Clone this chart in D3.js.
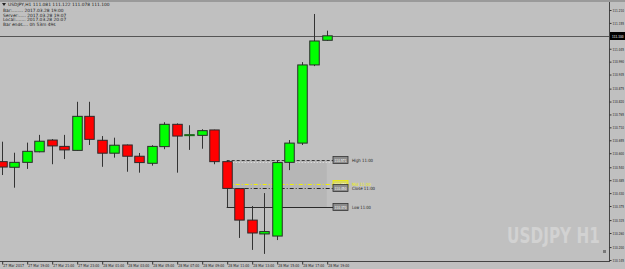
<!DOCTYPE html>
<html>
<head>
<meta charset="utf-8">
<script src="https://cdn.jsdelivr.net/npm/d3@7"></script>
<style>
  html,body{margin:0;padding:0;background:#c0c0c0;overflow:hidden;}
  svg{display:block;}
  text{font-family:"DejaVu Sans",sans-serif;}
</style>
</head>
<body>
<script>
// H1 bars, 27 Mar 17:00 .. 28 Mar 19:00
var barTimes=['27 Mar 17:00','27 Mar 18:00','27 Mar 19:00','27 Mar 20:00','27 Mar 21:00','27 Mar 22:00',
  '27 Mar 23:00','28 Mar 00:00','28 Mar 01:00','28 Mar 02:00','28 Mar 03:00','28 Mar 04:00','28 Mar 05:00',
  '28 Mar 06:00','28 Mar 07:00','28 Mar 08:00','28 Mar 09:00','28 Mar 10:00','28 Mar 11:00','28 Mar 12:00',
  '28 Mar 13:00','28 Mar 14:00','28 Mar 15:00','28 Mar 16:00','28 Mar 17:00','28 Mar 18:00','28 Mar 19:00'];
var opens =[110.564,110.540,110.561,110.606,110.656,110.629,110.612,110.757,110.655,110.600,110.635,110.587,110.557,
  110.628,110.723,110.679,110.676,110.699,110.564,110.449,110.315,110.256,110.247,110.561,110.643,110.976,111.081];
var highs =[110.649,110.602,110.645,110.678,110.660,110.678,110.819,110.819,110.673,110.666,110.637,110.601,110.634,
  110.732,110.727,110.719,110.702,110.700,110.571,110.450,110.375,110.430,110.571,110.656,110.988,111.193,111.122];
var lows  =[110.507,110.453,110.533,110.604,110.553,110.575,110.611,110.635,110.542,110.581,110.521,110.517,110.547,
  110.617,110.517,110.614,110.619,110.553,110.370,110.239,110.188,110.171,110.230,110.528,110.635,110.971,111.078];
var closes=[110.541,110.561,110.608,110.651,110.631,110.614,110.757,110.659,110.600,110.634,110.587,110.560,110.629,
  110.723,110.673,110.679,110.696,110.564,110.450,110.315,110.260,110.266,110.560,110.643,110.976,111.078,111.100];

var priceTicks=[111.210,111.155,111.045,110.990,110.935,110.875,110.820,110.765,110.710,110.655,110.600,
  110.540,110.485,110.430,110.375,110.315,110.260,110.200,110.145];
var timeTicks=['27 Mar 17:00','27 Mar 19:00','27 Mar 21:00','27 Mar 23:00','28 Mar 01:00','28 Mar 03:00','28 Mar 05:00',
  '28 Mar 07:00','28 Mar 09:00','28 Mar 11:00','28 Mar 13:00','28 Mar 15:00','28 Mar 17:00','28 Mar 19:00'];
var timeTickText=['27 Mar 2017','27 Mar 19:00','27 Mar 21:00','27 Mar 23:00','28 Mar 01:00','28 Mar 03:00','28 Mar 05:00',
  '28 Mar 07:00','28 Mar 09:00','28 Mar 11:00','28 Mar 13:00','28 Mar 15:00','28 Mar 17:00','28 Mar 19:00'];
var lastPrice=111.100;
var infoLines=['USDJPY,H1  111.081 111.122 111.078 111.100','Bar:........ 2017.03.28 19:00',
  'Server:..... 2017.03.28 19:07','Local:....... 2017.03.28 20:07','Bar ends.... 0h 53m 49s'];
// 11:00 bar levels
var levelBar='28 Mar 11:00';
var levelNames=['High 11:00','Mid 11:00','Close 11:00','Low 11:00'];

var W=625,H=269,plotR=609,plotB=261;
var bars=barTimes.map(function(t,i){return {t:t,o:opens[i],h:highs[i],l:lows[i],c:closes[i]};});

var x=d3.scalePoint().domain(barTimes).range([1.7,326.7]);
var y=d3.scaleLinear().domain([110.145,111.210]).range([260,10]);

var svg=d3.select("body").append("svg").attr("width",W).attr("height",H);

svg.append("rect").attr("width",W).attr("height",H).attr("fill","#c0c0c0");
svg.append("rect").attr("width",W).attr("height",2).attr("fill","#9a9a9a");

// 11:00 range box and levels
var lb=bars[barTimes.indexOf(levelBar)];
var levelVals=[lb.h,(lb.h+lb.l)/2,lb.c,lb.l];
var boxX0=x(levelBar),boxX1=x(barTimes[barTimes.length-1]);
svg.append("rect")
  .attr("x",boxX0).attr("y",y(lb.h))
  .attr("width",boxX1-boxX0).attr("height",y(lb.l)-y(lb.h))
  .attr("fill","#b6b6b6");

var levelStyle=[{c:"#3a3a3a",d:"3,2"},{c:"#f0f000",d:"4,2,1,2"},{c:"#2a2a2a",d:"4,2,1,2"},{c:"#2a2a2a",d:null}];
svg.selectAll("line.level")
  .data(levelVals)
  .enter().append("line")
  .attr("class","level")
  .attr("x1",boxX0).attr("x2",333)
  .attr("y1",function(d){return Math.round(y(d))+0.5;})
  .attr("y2",function(d){return Math.round(y(d))+0.5;})
  .attr("stroke",function(d,i){return levelStyle[i].c;})
  .attr("stroke-width",1)
  .attr("stroke-dasharray",function(d,i){return levelStyle[i].d;});
svg.append("line")
  .attr("x1",boxX0).attr("x2",333)
  .attr("y1",Math.round(y(lb.h))+2.5).attr("y2",Math.round(y(lb.h))+2.5)
  .attr("stroke","#e8e8e8").attr("stroke-dasharray","1,2");

var lg=svg.selectAll("g.lvl")
  .data(levelVals)
  .enter().append("g")
  .attr("class","lvl")
  .attr("transform",function(d){return "translate(333,"+Math.round(y(d))+")";});
lg.append("rect")
  .attr("x",0).attr("y",-3.5).attr("width",15).attr("height",7)
  .attr("fill",function(d,i){return i==1?"#d8d860":"#8c8c8c";})
  .attr("stroke",function(d,i){return i==1?"#f0f000":"#333";})
  .attr("stroke-width",0.8);
lg.append("text")
  .attr("x",1.5).attr("y",1.6)
  .attr("font-size","4px").attr("fill","#fff")
  .attr("textLength",12).attr("lengthAdjust","spacingAndGlyphs")
  .text(function(d){return d.toFixed(3);});
lg.append("text")
  .attr("x",19).attr("y",1.6)
  .attr("font-size","4.4px")
  .attr("fill",function(d,i){return i==1?"#f0f000":"#222";})
  .attr("textLength",function(d,i){return levelNames[i].length*2.1;})
  .attr("lengthAdjust","spacingAndGlyphs")
  .text(function(d,i){return levelNames[i];});

// current price line
svg.append("line")
  .attr("x1",0).attr("x2",plotR)
  .attr("y1",Math.round(y(lastPrice))+0.5).attr("y2",Math.round(y(lastPrice))+0.5)
  .attr("stroke","#555").attr("stroke-width",1);

// candles
var bw=9.5;
svg.selectAll("line.wick")
  .data(bars)
  .enter().append("line")
  .attr("class","wick")
  .attr("x1",function(d){return Math.round(x(d.t))+0.5;})
  .attr("x2",function(d){return Math.round(x(d.t))+0.5;})
  .attr("y1",function(d){return y(d.h);})
  .attr("y2",function(d){return y(d.l);})
  .attr("stroke","#333").attr("stroke-width",1);

svg.selectAll("rect.body")
  .data(bars)
  .enter().append("rect")
  .attr("class","body")
  .attr("x",function(d){return Math.round(x(d.t))+0.5-bw/2;})
  .attr("width",bw)
  .attr("y",function(d){return y(Math.max(d.o,d.c));})
  .attr("height",function(d){return Math.max(1,Math.abs(y(d.o)-y(d.c)));})
  .attr("fill",function(d){return d.c>d.o?"#00ff00":(d.c<d.o?"#ff0000":"#1a6a1a");})
  .attr("stroke",function(d){return d.c==d.o?"#1a6a1a":"#2a2a2a";})
  .attr("stroke-width",1);

// watermark
svg.append("text")
  .attr("x",600).attr("y",243)
  .attr("text-anchor","end")
  .attr("font-family","'Liberation Sans',Arial,sans-serif")
  .attr("font-weight","bold").attr("font-size","22px")
  .attr("fill","#d2d2d2")
  .attr("textLength",93).attr("lengthAdjust","spacingAndGlyphs")
  .text("USDJPY H1");

// axes frame
svg.append("line").attr("x1",plotR+0.5).attr("x2",plotR+0.5).attr("y1",2).attr("y2",plotB)
  .attr("stroke","#444");
svg.append("line").attr("x1",0).attr("x2",plotR+1).attr("y1",plotB+0.5).attr("y2",plotB+0.5)
  .attr("stroke","#444");
svg.append("rect").attr("x",603).attr("y",250).attr("width",3).attr("height",3).attr("fill","#7a7a7a");

var yAxis=d3.axisRight(y).tickValues(priceTicks).tickSize(2).tickPadding(1).tickFormat(d3.format(".3f"));
var ya=svg.append("g").attr("transform","translate("+(plotR+0.5)+",0)").call(yAxis);
ya.select(".domain").remove();
ya.selectAll("line").attr("stroke","#333");
ya.selectAll("text").attr("font-size","4px").attr("fill","#222").attr("font-family","'DejaVu Sans',sans-serif")
  .attr("textLength",11.5).attr("lengthAdjust","spacingAndGlyphs");

// last price tag
var tag=svg.append("g").attr("transform","translate("+plotR+","+Math.round(y(lastPrice))+")");
tag.append("rect").attr("x",1).attr("y",-4).attr("width",15).attr("height",8).attr("fill","#000");
tag.append("text").attr("x",3).attr("y",1.5).attr("font-size","4px").attr("fill","#fff")
  .attr("textLength",11.5).attr("lengthAdjust","spacingAndGlyphs").text(lastPrice.toFixed(3));

var xAxis=d3.axisBottom(x).tickValues(timeTicks).tickSize(3).tickFormat(function(d){return timeTickText[timeTicks.indexOf(d)];});
var xa=svg.append("g").attr("transform","translate(0,"+(plotB+0.5)+")").call(xAxis);
xa.select(".domain").remove();
xa.selectAll("line").attr("stroke","#333").attr("transform","translate(0.5,0)");
xa.selectAll("text").attr("font-size","4px").attr("fill","#222").attr("text-anchor","start")
  .attr("dx","1").attr("y",2).attr("dy","0.9em").attr("font-family","'DejaVu Sans',sans-serif")
  .attr("textLength",21).attr("lengthAdjust","spacingAndGlyphs");

// info block
svg.append("path").attr("d","M2,3 L6,3 L4,6 Z").attr("fill","#222");
svg.selectAll("text.info")
  .data(infoLines)
  .enter().append("text")
  .attr("class","info")
  .attr("x",function(d,i){return i==0?8:3;})
  .attr("y",function(d,i){return [6,12,16.5,21,26][i];})
  .attr("font-size","4.4px").attr("fill","#222")
  .text(function(d){return d;});
</script>
</body>
</html>
